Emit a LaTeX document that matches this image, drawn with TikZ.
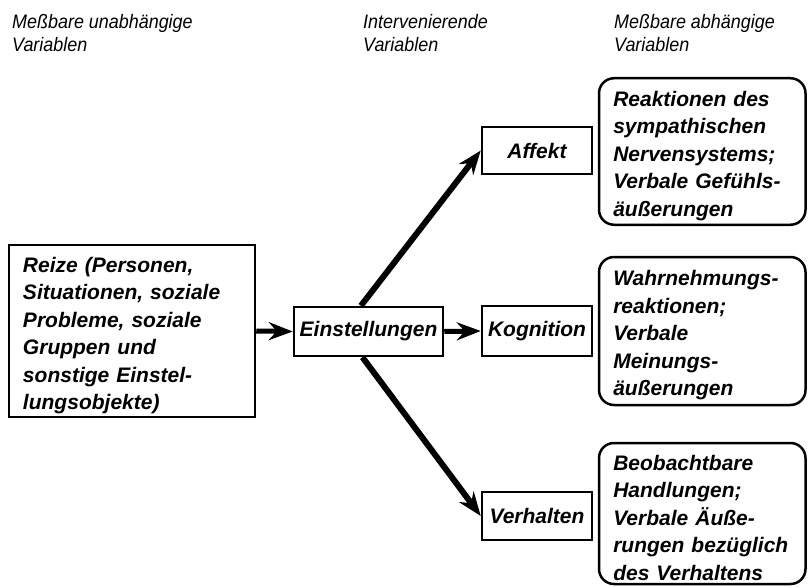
\documentclass[tikz,border=0pt]{standalone}
\usepackage{fontspec}
\setmainfont{Liberation Sans}
\newfontfamily\headfont{Liberation Sans}[FakeStretch=0.92]
\usetikzlibrary{arrows.meta,calc}
\begin{document}
\begin{tikzpicture}[x=1pt,y=-1pt,
  head/.style={anchor=north west,inner sep=0pt,align=left,font=\fontsize{19.5}{23}\selectfont\headfont\itshape},
  box/.style={draw,line width=2.5pt,inner sep=0pt,align=left,font=\fontsize{21}{27.5}\selectfont\bfseries\itshape},
  mbox/.style={box,text height=24pt},
  sbox/.style={box,align=center,minimum width=110pt},
  rbox/.style={mbox,rounded corners=15pt,minimum width=206.5pt,text width=178pt},
  arr/.style={-{Stealth[length=24pt,width=18pt,inset=8pt]},line width=6pt},
  harr/.style={-{Stealth[length=24pt,width=18pt,inset=8pt]},line width=5pt}]
\useasboundingbox (0,0) rectangle (808,588);
% headers
\node[head] (h1) at (12,14) {Meßbare unabhängige\\Variablen};
\node[head] (h2) at (363,14) {Intervenierende\\Variablen};
\node[head] (h3) at (614,14) {Meßbare abhängige\\Variablen};
% left box
\node[mbox,minimum width=246pt,minimum height=172pt,text width=218pt] (reize) at (132,331)
  {Reize (Personen,\\Situationen, soziale\\Probleme, soziale\\Gruppen und\\sonstige Einstel-\\lungsobjekte)};
% middle
\node[box,align=center,minimum width=149pt,minimum height=49pt] (einst) at (368.5,331.5) {Einstellungen};
\node[sbox,minimum height=47pt] (aff) at (537,150.5) {Affekt};
\node[sbox,minimum height=50pt] (kog) at (537,331) {Kognition};
\node[sbox,minimum height=48pt] (verh) at (537,516) {Verhalten};
% right
\node[rbox,minimum height=146.5pt] (ra) at (702.25,151.5)
  {Reaktionen des\\sympathischen\\Nervensystems;\\Verbale Gefühls-\\äußerungen};
\node[rbox,minimum height=148pt] (rk) at (702.25,331)
  {Wahrnehmungs-\\reaktionen;\\Verbale\\Meinungs-\\äußerungen};
\node[rbox,minimum height=141pt] (rv) at (702.25,513.5)
  {Beobachtbare\\Handlungen;\\Verbale Äuße-\\rungen bezüglich\\des Verhaltens};
% arrows
\draw[harr] (reize.east) -- (einst.west);
\draw[harr] (einst.east) -- (kog.west);
\draw[arr] ($(einst.north west)!0.45!(einst.north east)$) -- (aff.west);
\draw[arr] ($(einst.south west)!0.46!(einst.south east)$) -- (verh.west);
\end{tikzpicture}
\end{document}
